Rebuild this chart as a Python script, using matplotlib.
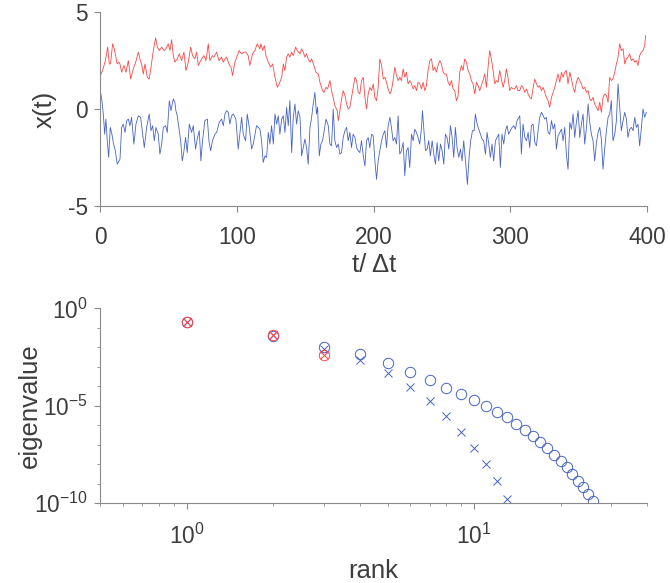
import numpy as np
import matplotlib
matplotlib.use("Agg")
import matplotlib.pyplot as plt
from matplotlib.ticker import FixedLocator, NullFormatter, LogLocator

plt.rcParams['font.family'] = ['Liberation Sans', 'DejaVu Sans']
plt.rcParams['mathtext.fontset'] = 'custom'
plt.rcParams['mathtext.rm'] = 'Liberation Sans'
plt.rcParams['mathtext.it'] = 'Liberation Sans'
plt.rcParams['axes.unicode_minus'] = False

# ---------------- top panel data: time series ----------------
red_t = [0, 1.7, 3.4, 4.6, 5.4, 6.6, 7.5, 9.0, 10.2, 11.4, 12.4, 13.6,
         14.4, 15.6, 17.3, 18.8, 20.5, 22.2, 24.1, 25.9, 27.8, 29.0, 30.2, 31.5, 32.7, 34.4, 35.8, 37.1,
         38.8, 40.5, 41.7, 43.2, 44.9, 46.6, 48.0, 49.7, 51.0, 52.2, 53.4, 54.6, 56.3, 57.8, 59.5, 61.2,
         62.7, 64.4, 66.1, 67.5, 69.2, 70.5, 71.7, 72.9, 74.1, 75.8, 77.3, 79.0, 80.2, 81.9, 83.1, 85.1,
         86.8, 88.7, 90.0, 91.2, 92.4, 94.1, 95.6, 96.8, 98.5, 100.2, 101.6, 103.4, 105.1, 106.5, 108.2,
         109.4, 111.4, 113.1, 114.8, 116.8,
         117.5, 118.8, 120.0, 121.2, 122.9, 124.6, 126.1, 127.8, 129.5, 130.9, 132.7, 133.9, 135.1, 136.3,
         137.5, 138.7, 140.0, 141.2, 142.9, 144.1, 146.1, 147.3, 148.5, 149.7, 150.9, 152.1, 153.4, 154.6,
         156.3, 157.8, 159.5, 160.7, 162.6, 163.6, 165.1, 166.3, 168.0, 169.2, 170.4, 171.6, 173.4, 174.1,
         175.3, 176.5, 177.7, 179.0, 180.2, 181.4, 182.6, 183.8, 185.0, 186.3, 187.5, 188.7, 189.9, 191.1,
         192.4, 193.6, 194.8, 196.0, 197.2, 198.5, 199.7, 200.9, 202.1, 203.3, 204.5, 205.8, 207.0, 208.2,
         209.4, 210.6, 211.9,
         213.0, 214.2, 215.5, 216.7, 217.9, 219.1, 220.3, 221.6, 222.8, 224.0, 225.2, 226.4, 227.7, 228.9,
         230.1, 231.3, 232.5, 233.7, 235.0, 236.2, 237.4, 238.6, 239.8, 241.1, 242.3, 243.5, 244.7, 245.9,
         247.1, 248.4, 249.6, 250.8, 252.0, 253.2, 254.5, 255.7, 256.9, 258.1, 259.3, 260.6, 261.8, 263.0,
         264.2, 265.4, 266.6, 267.9, 269.1, 270.3, 271.5, 272.7, 274.0, 275.2, 276.4, 277.6, 278.8, 280.0,
         281.3, 282.5, 283.7, 284.9, 286.1, 287.4, 288.6, 289.8, 291.0, 292.2, 293.5, 294.7, 295.9, 297.1,
         298.3, 299.5, 300.8, 302.0, 303.2, 304.4, 305.6, 306.9,
         308.1, 309.3, 310.6, 311.8, 313.0, 314.2, 315.4, 316.7, 317.9, 319.1, 320.3, 321.5, 322.8, 324.0,
         325.2, 326.4, 327.6, 328.8, 330.1, 331.3, 332.5, 333.7, 334.9, 336.2, 337.4, 338.6, 339.8, 341.0,
         342.2, 343.5, 344.7, 345.9, 347.1, 348.3, 349.6, 350.8, 352.0, 353.2, 354.4, 355.7, 356.9, 358.1,
         359.3, 360.5, 361.7, 363.0, 364.2, 365.4, 366.6, 367.8, 369.1, 370.3, 371.5, 372.7, 373.9, 375.1,
         376.4, 377.6, 378.8, 380.0, 381.2, 382.5, 383.7, 384.9, 386.1, 387.3, 388.6, 389.8, 391.0, 392.2,
         393.4, 394.6, 395.9, 397.1, 398.3, 399.0]
red_x = [1.73, 1.99, 2.42, 2.85, 3.20, 2.33, 2.33, 3.37, 3.11, 2.68, 2.33, 2.42,
         2.33, 1.90, 2.25, 1.90, 2.50, 1.55, 2.07, 2.42, 2.94, 2.59, 2.33, 1.81, 2.33, 1.64, 1.55, 2.16,
         3.02, 3.68, 3.20, 3.02, 3.20, 3.02, 3.11, 3.37, 3.02, 3.58, 2.76, 2.42, 2.59, 2.85, 2.50, 2.94,
         1.99, 2.42, 3.20, 2.76, 2.59, 2.94, 2.25, 2.42, 2.59, 2.76, 2.50, 3.37, 2.50, 2.76, 2.68, 2.94,
         2.50, 2.68, 2.42, 2.59, 2.68, 2.33, 2.16, 1.73, 2.42, 2.76, 3.02, 2.85, 2.94, 2.94, 2.76,
         2.25, 2.85, 3.02, 3.37, 3.11,
         3.37, 3.02, 3.28, 2.76, 2.42, 2.16, 2.33, 1.64, 1.12, 1.30, 1.64, 2.33, 1.99, 2.68,
         2.85, 2.68, 2.94, 2.76, 3.20, 3.02, 2.85, 3.11, 2.94, 2.68, 2.85, 2.59, 2.42, 2.59,
         2.25, 1.90, 1.81, 1.38, 0.95, 0.86, 1.12, 1.04, 1.47, 0.95, 0.60, 0.17, -0.09, -0.60,
         -0.09, 0.52, 0.95, 0.69, 0.26, 0.00, 0.09, 0.60, 1.12, 1.64, 1.47, 0.86, 0.78, 1.47,
         1.64, 0.60, 0.00, 0.78, 1.12, 0.95, 1.30, 0.60, 0.43, 1.12, 2.59, 2.25, 1.55, 1.64,
         1.38, 1.04, 0.78,
         0.95, 1.47, 2.16, 1.73, 1.47, 1.64, 1.47, 2.07, 1.64, 1.90, 1.30, 1.47, 1.30, 1.04,
         1.21, 0.95, 1.38, 1.30, 1.04, 1.38, 0.95, 1.21, 1.99, 2.50, 2.59, 1.99, 2.16, 1.90,
         2.25, 2.50, 2.33, 1.90, 1.81, 1.81, 1.38, 1.21, 1.47, 1.04, 0.95, 0.43, 0.69, 1.90,
         2.25, 1.99, 2.59, 2.42, 1.99, 1.81, 1.47, 1.30, 0.78, 1.38, 1.21, 0.95, 1.21, 1.47,
         1.81, 1.12, 2.16, 3.02, 2.59, 1.99, 1.30, 1.47, 1.38, 1.99, 1.55, 1.12, 1.47, 2.07,
         1.64, 0.95, 1.12, 1.04, 1.04, 1.21, 0.95, 0.95,
         1.21, 1.12, 0.86, 1.04, 0.78, 0.60, 0.52, 1.12, 1.55, 1.30, 1.12, 1.21, 0.95, 1.12,
         0.86, 0.60, 0.43, 0.09, 0.60, 0.86, 1.12, 1.47, 1.81, 1.38, 1.90, 1.64, 1.90, 1.99,
         1.30, 1.90, 1.55, 1.12, 0.86, 1.38, 1.64, 1.47, 1.30, 1.04, 1.12, 0.86, 0.95, 0.52,
         0.43, 0.60, 0.26, 0.09, -0.09, 0.35, -0.17, 0.60, 0.78, 0.69, 0.35, 1.64, 1.47, 1.55,
         1.90, 2.33, 2.68, 3.37, 3.02, 3.11, 2.33, 2.59, 2.68, 2.85, 2.50, 2.59, 2.42, 2.50,
         2.25, 2.76, 2.94, 3.02, 3.28, 3.80]

blue_t = [0, 1.2, 2.2, 3.2, 4.1, 5.1, 6.1, 7.3, 8.5, 9.7, 11.0, 12.4, 14.4,
          15.6, 16.8, 18.1, 19.3, 20.5, 21.7, 22.9, 24.6, 26.1, 27.8, 29.5, 31.0, 32.2, 33.9, 35.8, 37.1,
          38.3, 39.5, 40.7, 42.4, 43.6, 44.9, 46.1, 47.8, 49.0, 50.5, 51.7, 53.4, 54.6, 55.3, 56.3, 57.5,
          58.8, 60.0, 61.2, 62.4, 63.6, 65.1, 66.8, 68.0, 69.7, 70.9, 72.4, 73.6, 74.8, 76.5, 78.3, 79.5,
          80.7, 82.1, 83.9, 85.1, 87.0, 88.7, 90.0, 91.2, 92.4, 93.6, 94.8, 96.0, 97.3, 99.2, 100.9, 102.1,
          103.4, 104.6, 106.3, 107.5, 109.0, 110.7, 111.9, 114.3, 116.8,
          118.0, 119.2, 120.5, 121.7, 122.9, 124.1, 125.3, 126.6, 127.8, 129.0, 130.2, 131.4, 132.7, 133.9,
          135.1, 136.3, 137.5, 138.7, 140.0, 141.2, 142.4, 143.6, 144.8, 146.1, 147.3, 148.5, 149.7, 150.9,
          152.1, 153.4, 154.6, 155.8, 157.0, 158.2, 159.0, 160.2, 161.4, 162.6, 163.8, 165.1, 166.8, 168.0,
          169.2, 170.4, 171.6, 172.9, 174.1, 175.3, 176.5, 177.7, 179.0, 180.2, 181.4, 182.6, 183.8, 185.0,
          186.3, 187.5, 188.7, 189.9, 191.1, 192.4, 193.6, 194.8, 196.0, 197.2, 198.5, 199.7, 200.9, 202.1,
          203.3, 204.5, 205.8, 207.0, 208.2, 209.4, 210.6, 211.9,
          213.0, 214.2, 215.5, 216.7, 217.9, 219.1, 220.3, 221.6, 222.8, 224.0, 225.2, 226.4, 227.7, 228.9,
          230.1, 231.3, 232.5, 233.7, 235.0, 235.7, 236.7, 237.9, 239.1, 240.3, 241.5, 242.8, 244.0, 245.2,
          246.4, 247.6, 248.9, 250.1, 251.3, 252.5, 253.7, 255.0, 256.2, 257.4, 258.6, 259.8, 261.0, 262.3,
          263.5, 264.7, 265.9, 267.4, 268.6, 269.8, 271.0, 272.3, 273.5, 274.4, 275.7, 276.9, 278.1, 279.3,
          280.5, 281.8, 283.0, 284.2, 285.4, 286.6, 287.8, 289.1, 290.3, 291.5, 292.7, 293.9, 295.2, 296.4,
          297.6, 298.8, 300.0, 301.3, 302.5, 303.7, 304.9, 306.9,
          308.1, 309.3, 310.6, 311.8, 313.0, 314.2, 315.4, 316.7, 317.9, 319.1, 320.3, 321.5, 322.8, 324.0,
          325.2, 326.4, 327.6, 328.8, 330.1, 331.3, 332.5, 333.7, 334.9, 336.2, 337.4, 338.6, 339.8, 341.0,
          342.2, 343.5, 344.7, 345.9, 347.1, 348.3, 349.6, 350.8, 352.0, 353.2, 354.4, 355.7, 356.9, 358.1,
          359.3, 360.5, 361.7, 363.0, 364.2, 365.4, 366.6, 367.8, 369.1, 370.3, 371.5, 372.7, 373.9, 375.1,
          376.4, 377.6, 378.8, 380.0, 381.2, 382.5, 383.7, 384.9, 386.1, 387.3, 388.6, 389.8, 391.0, 392.2,
          393.4, 394.6, 395.9, 397.1, 398.3, 399.5]
blue_x = [0.95, 0.43, -0.26, -1.30, -0.52, -1.64, -2.50, -0.95, -1.30, -1.81, -2.16, -2.85, -2.59,
          -0.95, -0.78, -1.21, -0.60, -0.52, -0.86, -0.43, -1.81, -0.78, -0.35, -0.43, -1.30, -1.99, -0.95, -0.26, -1.12,
          -0.86, -1.64, -0.95, -1.30, -2.33, -1.81, -0.95, -0.86, -1.21, 0.43, -0.09, 0.52, 0.35, -0.09, -0.35, -0.95,
          -1.64, -2.68, -2.16, -1.47, -2.25, -0.78, -1.21, -0.86, -2.07, -1.55, -1.12, -2.68, -1.64, -0.60, -0.52, -1.64,
          -2.16, -1.64, -1.30, -1.21, -0.69, -0.52, -0.86, -0.26, -0.09, -0.17, -0.78, -0.35, -0.26, -0.52, -2.07, -1.30,
          -0.43, -1.30, -1.64, -0.26, -0.95, -2.07, -1.81, -0.86, -1.04,
          -1.64, -2.76, -2.42, -2.50, -1.21, -1.81, -0.86, -1.81, -0.26, -0.78, -0.35, -1.30, -0.52, -0.35,
          -1.21, 0.09, -0.86, 0.43, -2.25, -0.43, 0.26, -0.78, -0.09, -0.43, -2.42, -1.99, -1.55, -1.99,
          -2.85, -0.95, -0.43, 0.26, 0.86, -0.26, 0.09, -2.42, -1.81, -1.64, -1.12, -0.52, -0.86, -1.81,
          -1.90, 0.00, -1.64, -1.99, -1.81, -2.33, -2.25, -1.47, -1.12, -0.95, -1.64, -1.21, -1.99, -1.30,
          -1.47, -1.99, -2.16, -2.25, -1.64, -2.42, -2.94, -1.64, -1.47, -1.99, -1.30, -1.38, -2.68, -3.63,
          -2.68, -2.16, -1.64, -1.30, -1.12, -1.99, -0.86, -0.43,
          -0.95, -1.64, -1.47, -1.81, -0.35, -2.33, -2.16, -1.73, -3.45, -2.16, -1.99, -3.02, -1.30, -1.64,
          -1.04, -1.21, -1.47, -1.81, -0.95, -0.09, -1.04, -2.16, -2.07, -1.64, -2.42, -1.64, -2.33, -2.85,
          -1.73, -2.68, -1.81, -2.16, -2.85, -1.30, -1.47, -2.07, -0.86, -1.47, -2.50, -0.95, -1.99, -2.50,
          -2.07, -2.68, -1.64, -2.85, -3.89, -2.50, -1.64, -1.12, -1.12, -0.26, -0.78, -1.04, -1.30, -1.55,
          -1.64, -2.33, -1.21, -1.81, -2.50, -1.81, -2.68, -1.64, -1.47, -1.30, -3.02, -1.30, -1.81, -1.12,
          -0.86, -1.30, -1.12, -0.95, -0.86, -1.04, -0.60, -0.35,
          -2.33, -0.78, -1.47, -1.64, -1.21, -1.99, -0.86, -0.78, -1.73, -1.90, -1.12, -0.43, -0.17, -0.35,
          -0.52, -0.43, -1.21, -1.30, -0.60, -1.04, -0.78, -2.07, -1.38, -1.21, -1.04, -1.64, -0.95, -2.33,
          -3.11, -0.69, -1.04, -0.26, -1.47, -0.69, -0.09, -1.47, -0.78, -0.26, -1.81, -0.95, 0.26, -0.69,
          -1.30, -1.64, -2.68, -1.73, -1.21, -0.95, -1.55, -3.11, -1.99, -1.12, -0.43, -0.26, 0.43, -1.64,
          -1.30, -0.60, 1.30, 0.09, -1.12, -0.60, -0.17, -0.52, -1.47, -1.04, -0.95, -1.12, -0.43, -0.95,
          -0.78, -1.90, -0.95, 0.00, -0.43, -0.17]

ts_xticks = [0, 100, 200, 300, 400]
ts_yticks = [-5, 0, 5]

# ---------------- bottom panel data: eigenvalue spectra ----------------
rank_blue_o = list(range(1, 27))
eig_blue_o = [2.0e-1, 3.7e-2, 1.05e-2, 4.3e-3, 1.6e-3, 5.6e-4, 2.0e-4, 8.5e-5, 3.8e-5, 1.9e-5,
              1.0e-5, 4.9e-6, 2.5e-6, 1.2e-6, 6.0e-7, 2.8e-7, 1.4e-7, 6.9e-8, 3.1e-8, 1.4e-8,
              6.9e-9, 3.1e-9, 1.4e-9, 6.5e-10, 2.8e-10, 1.26e-10]
rank_blue_x = list(range(1, 14))
eig_blue_x = [2.0e-1, 4.1e-2, 8.7e-3, 2.2e-3, 4.8e-4, 9.5e-5, 1.7e-5, 3.0e-6, 4.6e-7, 7.1e-8,
              1.0e-8, 1.35e-9, 1.7e-10]
rank_red = [1, 2, 3]
eig_red_o = [2.0e-1, 4.57e-2, 3.9e-3]
eig_red_x = [2.0e-1, 4.57e-2, 3.9e-3]

RED = '#ff4545'
BLUE = '#4763c4'
SPINE = '#8a8a8a'
TXT = '#3d3d3d'
FS = 16.3
LFS = 18.5

fig = plt.figure(figsize=(6.70, 5.83), dpi=100)
ax1 = fig.add_axes([0.1497, 0.647, 0.816, 0.332])
ax2 = fig.add_axes([0.1497, 0.137, 0.816, 0.334])

ax1.plot(red_t, red_x, color=RED, lw=0.6)
ax1.plot(blue_t, blue_x, color=BLUE, lw=0.6)
ax1.set_xlim(0, 400)
ax1.set_ylim(-5, 5)
ax1.set_xticks(ts_xticks)
ax1.set_yticks(ts_yticks)
ax1.set_xlabel('t/ Δt', fontsize=LFS, color=TXT)
ax1.set_ylabel('x(t)', fontsize=LFS, color=TXT)
ax1.xaxis.set_label_coords(0.5, -0.245)
ax1.yaxis.set_label_coords(-0.079, 0.5)

ax2.plot(rank_blue_o, eig_blue_o, 'o', mfc='none', mec=BLUE, ms=7.5, mew=0.7)
ax2.plot(rank_blue_x, eig_blue_x, 'x', color=BLUE, ms=6, mew=0.7)
ax2.plot(rank_red, eig_red_o, 'o', mfc='none', mec=RED, ms=7.5, mew=0.7)
ax2.plot(rank_red, eig_red_x, 'x', color=RED, ms=6, mew=0.7)
ax2.set_xscale('log')
ax2.set_yscale('log')
ax2.set_xlim(0.5, 40)
ax2.set_ylim(1e-10, 1e0)
ax2.yaxis.set_major_locator(FixedLocator([1e-10, 1e-5, 1e0]))
ax2.yaxis.set_minor_locator(FixedLocator([10.0**k for k in range(-9, 0) if k != -5]))
ax2.yaxis.set_minor_formatter(NullFormatter())
ax2.xaxis.set_major_locator(FixedLocator([1, 10]))
ax2.xaxis.set_minor_locator(LogLocator(base=10, subs=np.arange(2, 10)))
ax2.xaxis.set_minor_formatter(NullFormatter())
ax2.set_yticklabels(['10$^{-10}$', '10$^{-5}$', '10$^{0}$'])
ax2.set_xticklabels(['10$^{0}$', '10$^{1}$'])
ax2.set_xlabel('rank', fontsize=LFS, color=TXT)
ax2.set_ylabel('eigenvalue', fontsize=LFS, color=TXT)
ax2.xaxis.set_label_coords(0.5, -0.285)
ax2.yaxis.set_label_coords(-0.107, 0.5)

for ax in (ax1, ax2):
    for s in ('top', 'right'):
        ax.spines[s].set_visible(False)
    for s in ('left', 'bottom'):
        ax.spines[s].set_color(SPINE)
        ax.spines[s].set_linewidth(0.8)
    ax.tick_params(which='major', direction='out', length=4, width=0.8, color=SPINE,
                   labelsize=FS, labelcolor=TXT, pad=5)
    ax.tick_params(axis='x', which='major', pad=10.5)
    ax.tick_params(which='minor', direction='out', length=2.2, width=0.6, color=SPINE)

fig.savefig('out.png', dpi=100)
